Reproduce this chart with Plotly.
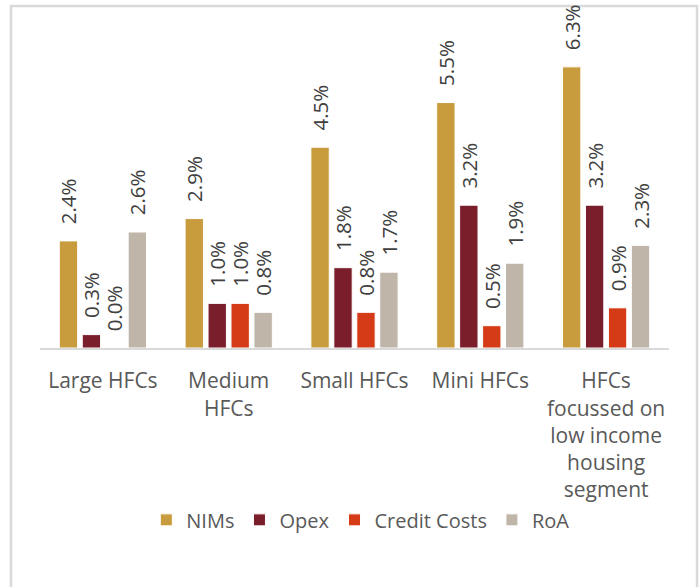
import plotly.graph_objects as go

categories = [
    "Large HFCs",
    "Medium<br>HFCs",
    "Small HFCs",
    "Mini HFCs",
    "HFCs<br>focussed on<br>low income<br>housing<br>segment",
]
nims = [2.4, 2.9, 4.5, 5.5, 6.3]
opex = [0.3, 1.0, 1.8, 3.2, 3.2]
credit_costs = [0.0, 1.0, 0.8, 0.5, 0.9]
roa = [2.6, 0.8, 1.7, 1.9, 2.3]

series = [
    ("NIMs", nims, "#C89B3C"),
    ("Opex", opex, "#7B1E2B"),
    ("Credit Costs", credit_costs, "#D63B17"),
    ("RoA", roa, "#BFB5A8"),
]

FONT = "Open Sans"
PAD = "\u2002\u2009"

fig = go.Figure()
for name, vals, color in series:
    fig.add_trace(go.Bar(
        name=name,
        x=categories,
        y=vals,
        marker=dict(color=color, line=dict(color="white", width=1)),
        text=[f"{PAD}{v:.1f}%" for v in vals],
        textposition="outside",
        textangle=-90,
        constraintext="none",
        cliponaxis=False,
        textfont=dict(family=FONT, size=20.5, color="#404040"),
    ))

fig.update_layout(
    width=699,
    height=587,
    margin=dict(l=40, r=30, t=20, b=239),
    paper_bgcolor="white",
    plot_bgcolor="white",
    barmode="group",
    bargap=0.27,
    bargroupgap=0.2,
    showlegend=True,
    legend=dict(
        orientation="h",
        x=0.51, xanchor="center",
        y=-0.524, yanchor="middle",
        font=dict(family=FONT, size=20, color="#595959"),
        itemwidth=30,
        traceorder="normal",
    ),
    xaxis=dict(
        showline=True, linecolor="#D9D9D9", linewidth=2,
        ticks="", showgrid=False,
        ticklabelstandoff=13,
        tickfont=dict(family=FONT, size=21, color="#595959"),
    ),
    yaxis=dict(
        range=[0, 7.35], visible=False, showgrid=False, zeroline=False,
    ),
    shapes=[dict(
        type="rect", xref="paper", yref="paper",
        x0=(11 - 40) / 629, x1=(697 - 40) / 629,
        y0=(348 - 600) / 328, y1=(348 - 6) / 328,
        line=dict(color="#D9D9D9", width=2.5),
        fillcolor="rgba(0,0,0,0)",
        layer="below",
    )],
)

fig.write_html("out.html")
